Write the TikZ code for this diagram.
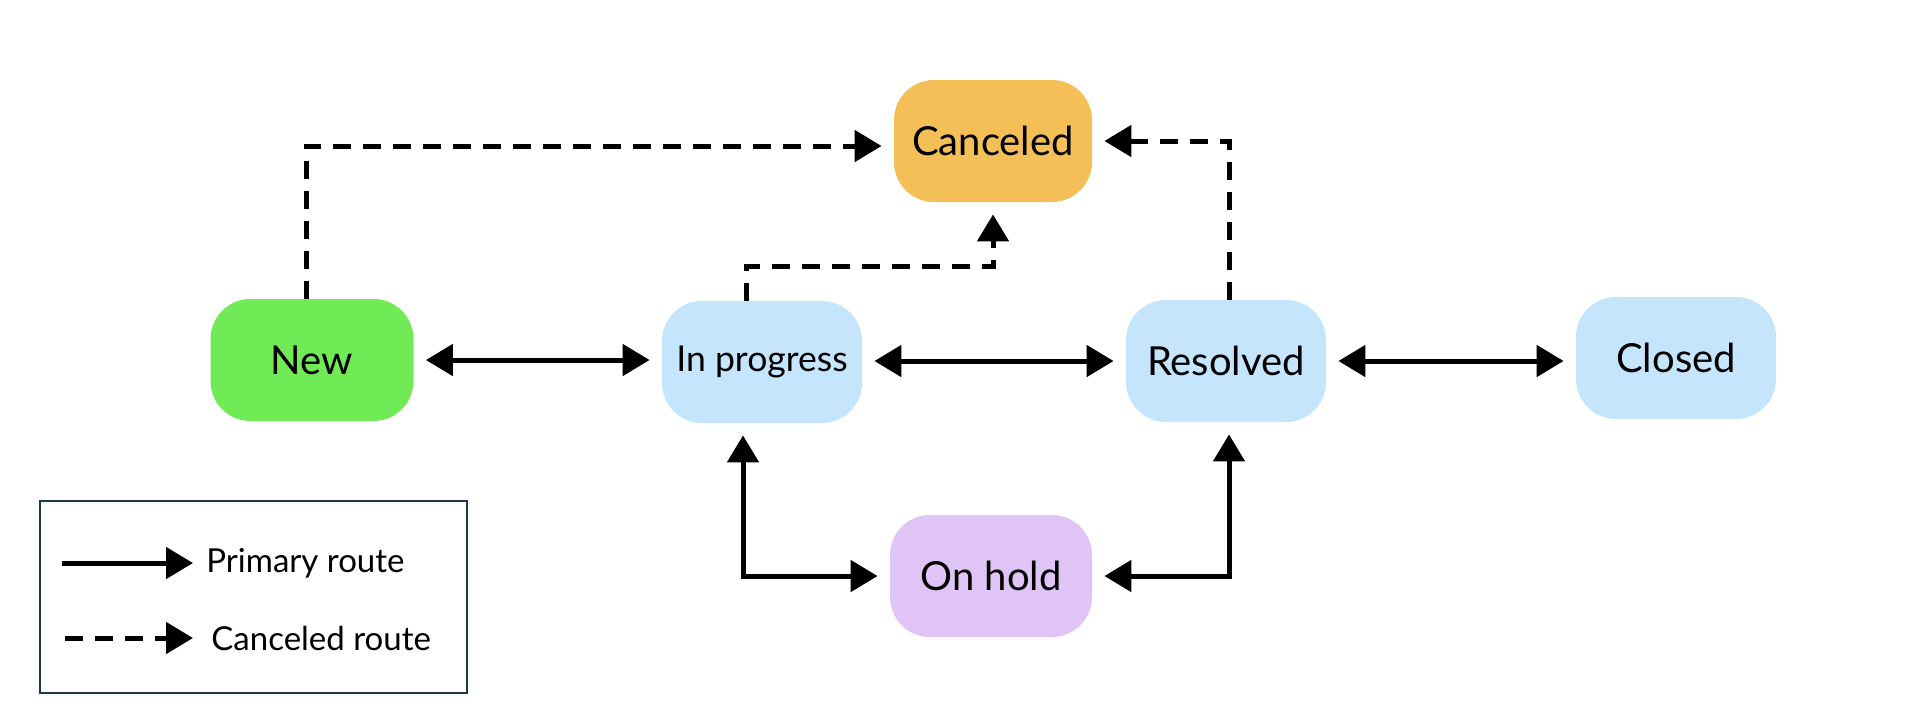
\documentclass[tikz,border=0pt]{standalone}
\usepackage{fontspec}
\setmainfont{Lato}
\usetikzlibrary{arrows.meta,calc}
\definecolor{cnew}{HTML}{70EB56}
\definecolor{ccanc}{HTML}{F5BF58}
\definecolor{cblue}{HTML}{C5E5FD}
\definecolor{chold}{HTML}{DFC4F5}
\definecolor{cnavy}{HTML}{1B3A4B}
\tikzset{
  state/.style={rounded corners=20pt, minimum width=100pt, minimum height=61pt, inner sep=0pt, font=\fontsize{20}{24}\selectfont, text=black},
  prim/.style={line width=2.5pt, {Triangle[length=13.5pt,width=15.5pt]}-{Triangle[length=13.5pt,width=15.5pt]}, shorten <=6pt, shorten >=6pt},
  cxl/.style={line width=2.5pt, dash pattern=on 9pt off 6pt, -{Triangle[length=13.5pt,width=15.5pt]}, shorten >=6pt},
  legtext/.style={anchor=west, inner sep=0pt, font=\fontsize{16.5}{20}\selectfont}
}
\begin{document}
\begin{tikzpicture}[x=0.5pt,y=-0.5pt]
\useasboundingbox (0,0) rectangle (1920,720);
\node[state, fill=ccanc, minimum width=99pt] (canc) at (993,141) {Canceled};
\node[state, fill=cnew, minimum width=101.5pt] (new) at (312,360) {New};
\node[state, fill=cblue, font=\fontsize{17.8}{21}\selectfont] (inprog) at (762,362) {In progress};
\node[state, fill=cblue] (res) at (1226,361) {Resolved};
\node[state, fill=cblue] (closed) at (1676,358) {Closed};
\node[state, fill=chold, minimum width=101pt] (hold) at (991,576) {On hold};
% primary routes
\draw[prim] (new.east) -- (new.east -| inprog.west);
\draw[prim] (res.west -| inprog.east) -- (res.west);
\draw[prim] (res.east) -- (res.east -| closed.west);
\draw[prim] ([xshift=-9.5pt]inprog.south) |- (hold.west);
\draw[prim] ([xshift=1.5pt]res.south) |- (hold.east);
% canceled routes
\draw[cxl] ([xshift=-3pt]new.north) |- ([yshift=-2.5pt]canc.west);
\draw[cxl] ([xshift=-8pt]inprog.north) -- ++(0,-34) -| (canc.south);
\draw[cxl] ([xshift=1.5pt]res.north) |- (canc.east);
% legend
\node[draw=cnavy, line width=1pt, minimum width=213.5pt, minimum height=96pt, inner sep=0pt] (legend) at (253.5,597) {};
\coordinate (l1a) at (62,563);
\coordinate (l1b) at (193,563);
\coordinate (l2a) at (65,638);
\coordinate (l2b) at (193,638);
\draw[line width=2.5pt, -{Triangle[length=13.5pt,width=15.5pt]}] (l1a) -- (l1b);
\draw[line width=2.5pt, dash pattern=on 9pt off 6pt, -{Triangle[length=13.5pt,width=15.5pt]}] (l2a) -- (l2b);
\node[legtext] (t1) at (206,563) {Primary route};
\node[legtext] (t2) at (211,638) {Canceled route};
\end{tikzpicture}
\end{document}
